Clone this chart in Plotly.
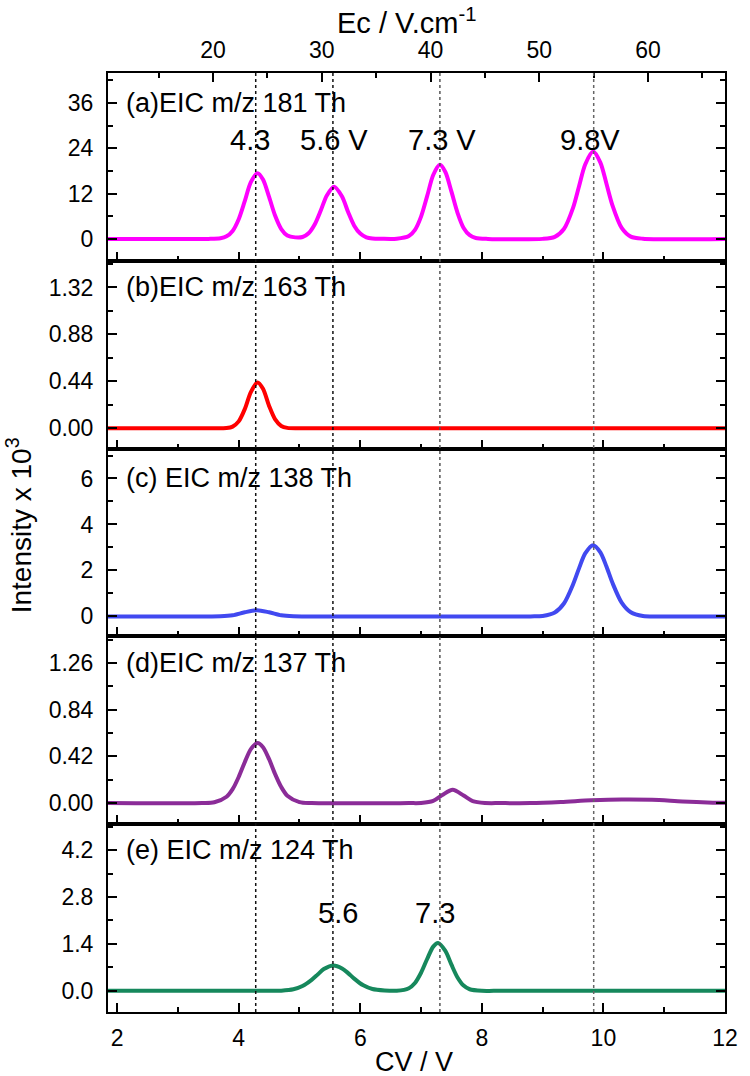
import plotly.graph_objects as go

# ---------------- data ----------------
# Panel (a) EIC m/z 181 Th
a_cv = [1.85, 3.5, 3.7, 3.8, 3.9, 4.0, 4.1, 4.2, 4.31, 4.4, 4.5, 4.6, 4.7, 4.8, 4.93,
        5.05, 5.15, 5.25, 5.35, 5.45, 5.57, 5.7, 5.8, 5.9, 6.0, 6.1, 6.2, 6.35, 6.6,
        6.8, 6.9, 7.0, 7.1, 7.2, 7.31, 7.4, 7.5, 7.6, 7.7, 7.8, 7.9, 8.1,
        9.0, 9.2, 9.35, 9.5, 9.6, 9.7, 9.83, 9.95, 10.05, 10.15, 10.3, 10.45, 10.65, 12.0]
a_int = [0, 0, 0.17, 0.67, 2.1, 5.2, 10.0, 15.0, 17.4, 15.7, 11.1, 6.1, 2.6, 0.9, 0.4,
         0.5, 1.5, 3.8, 7.5, 11.5, 13.8, 11.2, 7.1, 3.5, 1.4, 0.41, 0.1, 0.02, 0.04,
         0.76, 2.4, 5.9, 11.3, 16.9, 19.6, 17.7, 12.5, 6.9, 2.9, 0.98, 0.25, 0,
         0, 0.54, 2.6, 8.2, 14.0, 19.7, 23.1, 20.2, 14.6, 8.8, 2.9, 0.6, 0.04, 0]

# Panel (b) EIC m/z 163 Th
b_cv = [1.85, 3.6, 3.8, 3.9, 4.0, 4.1, 4.2, 4.31, 4.4, 4.5, 4.6, 4.7, 4.8, 5.0, 12.0]
b_int = [0, 0, 0.003, 0.016, 0.065, 0.18, 0.34, 0.43, 0.37, 0.21, 0.083, 0.022, 0.004, 0, 0]

# Panel (c) EIC m/z 138 Th
c_cv = [1.85, 3.5, 3.7, 3.9, 4.1, 4.3, 4.5, 4.7, 4.9, 5.1, 8.8, 9.0, 9.2, 9.35, 9.5,
        9.6, 9.7, 9.83, 9.95, 10.05, 10.15, 10.3, 10.45, 10.65, 10.9, 12.0]
c_int = [0, 0, 0.006, 0.05, 0.18, 0.27, 0.18, 0.05, 0.006, 0, 0, 0.02, 0.17, 0.56, 1.39,
         2.1, 2.74, 3.1, 2.79, 2.17, 1.45, 0.6, 0.18, 0.02, 0, 0]

# Panel (d) EIC m/z 137 Th
d_cv = [1.85, 3.4, 3.6, 3.8, 3.9, 4.0, 4.1, 4.2, 4.31, 4.4, 4.5, 4.6, 4.7, 4.8, 5.0, 5.2,
        6.8, 7.0, 7.2, 7.35, 7.52, 7.7, 7.85, 8.05, 8.3,
        8.8, 9.3, 9.8, 10.3, 10.8, 11.3, 11.8, 12.0]
d_int = [0, 0, 0.007, 0.057, 0.125, 0.235, 0.368, 0.486, 0.54, 0.503, 0.395, 0.26, 0.144, 0.067, 0.009, 0,
         0, 0.001, 0.02, 0.073, 0.12, 0.068, 0.018, 0.001, 0,
         0, 0.01, 0.025, 0.033, 0.03, 0.015, 0.004, 0.002]

# Panel (e) EIC m/z 124 Th
e_cv = [1.85, 4.5, 4.7, 4.9, 5.05, 5.2, 5.3, 5.4, 5.56, 5.7, 5.8, 5.9, 6.05, 6.2, 6.4,
        6.6, 6.8, 6.9, 7.0, 7.1, 7.2, 7.28, 7.4, 7.5, 7.6, 7.7, 7.8, 8.0, 8.2, 12.0]
e_int = [0, 0, 0.007, 0.047, 0.146, 0.33, 0.49, 0.65, 0.76, 0.67, 0.53, 0.365, 0.164, 0.055, 0.012,
         0.004, 0.08, 0.235, 0.54, 0.95, 1.32, 1.43, 1.19, 0.78, 0.4, 0.157, 0.048, 0.002, 0, 0]

panel_labels = ["(a)EIC m/z 181 Th", "(b)EIC m/z 163 Th", "(c) EIC m/z 138 Th",
                "(d)EIC m/z 137 Th", "(e) EIC m/z 124 Th"]
panel_colors = ["#FF00FF", "#FF0000", "#4149F0", "#8B2C98", "#16885C"]
y_ranges = [[-5.8, 43.9], [-0.19, 1.57], [-0.87, 7.3], [-0.19, 1.50], [-0.63, 4.97]]
y_dticks = [12, 0.44, 2, 0.42, 1.4]
y_formats = ["d", ".2f", "d", ".2f", ".1f"]
label_y = [36, 1.32, 6, 1.26, 4.2]

# reference CV lines (V) and peak annotations
cv_lines = [4.28, 5.55, 7.31, 9.84]
cv_line_colors = ["#111111", "#111111", "#555555", "#666666"]
peak_text_a = ["4.3", "5.6 V", "7.3 V", "9.8V"]
peak_x_a = [4.19, 5.57, 7.35, 9.78]
peak_y_a = 26.3
peak_text_e = ["5.6", "7.3"]
peak_x_e = [5.64, 7.23]
peak_y_e = 2.32

cv_range = [1.85, 12.0]
cv_ticks = [2, 4, 6, 8, 10, 12]
ec_per_cv = 5.59          # V.cm-1 per V of CV
ec_ticks = [20, 30, 40, 50, 60]

# ---------------- figure ----------------
FONT = "Liberation Sans, Arial, sans-serif"
TICK = 23
series = [(a_cv, a_int), (b_cv, b_int), (c_cv, c_int), (d_cv, d_int), (e_cv, e_int)]

fig = go.Figure()
for i, (xs, ys) in enumerate(series):
    suf = "" if i == 0 else str(i + 1)
    fig.add_trace(go.Scatter(x=xs, y=ys, mode="lines",
                             line=dict(color=panel_colors[i], width=4, shape="spline", smoothing=0.8),
                             xaxis="x" + suf, yaxis="y" + suf, showlegend=False, hoverinfo="skip"))

# invisible trace to carry the top Ec axis
fig.add_trace(go.Scatter(x=[cv_range[0] * ec_per_cv, cv_range[1] * ec_per_cv], y=[0, 0],
                         mode="lines", line=dict(width=0), opacity=0,
                         xaxis="x6", yaxis="y", showlegend=False, hoverinfo="skip"))

n = 5
layout = dict(
    width=750, height=1076,
    margin=dict(l=108, r=16, t=73, b=64),
    plot_bgcolor="white", paper_bgcolor="white",
    font=dict(family=FONT, size=TICK, color="black"),
    showlegend=False,
)
for i in range(n):
    suf = "" if i == 0 else str(i + 1)
    top = 1 - i / n
    bot = 1 - (i + 1) / n
    layout["xaxis" + suf] = dict(
        domain=[0, 1], anchor="y" + suf, range=cv_range,
        showline=True, linecolor="black", linewidth=2, mirror=True,
        ticks="inside", ticklen=9, tickwidth=2, tickcolor="black",
        tickvals=cv_ticks, showticklabels=(i == n - 1),
        tickfont=dict(size=TICK), ticklabelstandoff=4,
        minor=dict(ticks="inside", ticklen=5, tickwidth=1.5, tickcolor="black", dtick=1, tick0=0),
        showgrid=False, zeroline=False,
        **({} if i == 0 else {"matches": "x"}),
    )
    layout["yaxis" + suf] = dict(
        domain=[bot, top], anchor="x" + suf, range=y_ranges[i],
        showline=True, linecolor="black", linewidth=2, mirror="ticks",
        ticks="inside", ticklen=9, tickwidth=2, tickcolor="black",
        tick0=0, dtick=y_dticks[i], tickformat=y_formats[i],
        tickfont=dict(size=TICK), ticklabelstandoff=8,
        minor=dict(ticks="inside", ticklen=5, tickwidth=1.5, tickcolor="black",
                   dtick=y_dticks[i] / 2, tick0=0),
        showgrid=False, zeroline=False,
    )

layout["xaxis6"] = dict(
    overlaying="x", side="top", anchor="y",
    range=[cv_range[0] * ec_per_cv, cv_range[1] * ec_per_cv],
    tickvals=ec_ticks, ticks="inside", ticklen=9, tickwidth=2, tickcolor="black",
    tickfont=dict(size=TICK), ticklabelstandoff=9,
    minor=dict(ticks="inside", ticklen=5, tickwidth=1.5, tickcolor="black", dtick=5, tick0=0),
    showline=False, showgrid=False, zeroline=False,
)

shapes = []
for xv, col in zip(cv_lines, cv_line_colors):
    shapes.append(dict(type="line", xref="x", yref="paper", x0=xv, x1=xv, y0=0, y1=1,
                       line=dict(color=col, width=1.5, dash="dot"), layer="above"))
layout["shapes"] = shapes

ann = []
for i in range(n):
    suf = "" if i == 0 else str(i + 1)
    ann.append(dict(text=panel_labels[i], x=2.12, y=label_y[i], xref="x" + suf, yref="y" + suf,
                    xanchor="left", yanchor="middle", showarrow=False,
                    font=dict(size=27, family=FONT)))
for t, xv in zip(peak_text_a, peak_x_a):
    ann.append(dict(text=t, x=xv, y=peak_y_a, xref="x", yref="y", xanchor="center",
                    yanchor="middle", showarrow=False, font=dict(size=29, family=FONT)))
for t, xv in zip(peak_text_e, peak_x_e):
    ann.append(dict(text=t, x=xv, y=peak_y_e, xref="x5", yref="y5", xanchor="center",
                    yanchor="middle", showarrow=False, font=dict(size=29, family=FONT)))
# axis titles
ann.append(dict(text="CV / V", x=(418 - 108) / 626, y=(1012 - 1062) / 939, xref="paper", yref="paper",
                xanchor="center", yanchor="middle", showarrow=False, font=dict(size=27, family=FONT)))
ann.append(dict(text="Ec / V.cm<sup>-1</sup>", x=(411 - 108) / 626, y=(1012 - 21) / 939,
                xref="paper", yref="paper", xanchor="center", yanchor="middle", showarrow=False,
                font=dict(size=29, family=FONT)))
ann.append(dict(text="Intensity x 10<sup>3</sup>", x=(18 - 108) / 626, y=(1012 - 525) / 939,
                xref="paper", yref="paper", xanchor="center", yanchor="middle", textangle=-90,
                showarrow=False, font=dict(size=28, family=FONT)))
layout["annotations"] = ann

fig.update_layout(**layout)
fig.write_html("out.html")
